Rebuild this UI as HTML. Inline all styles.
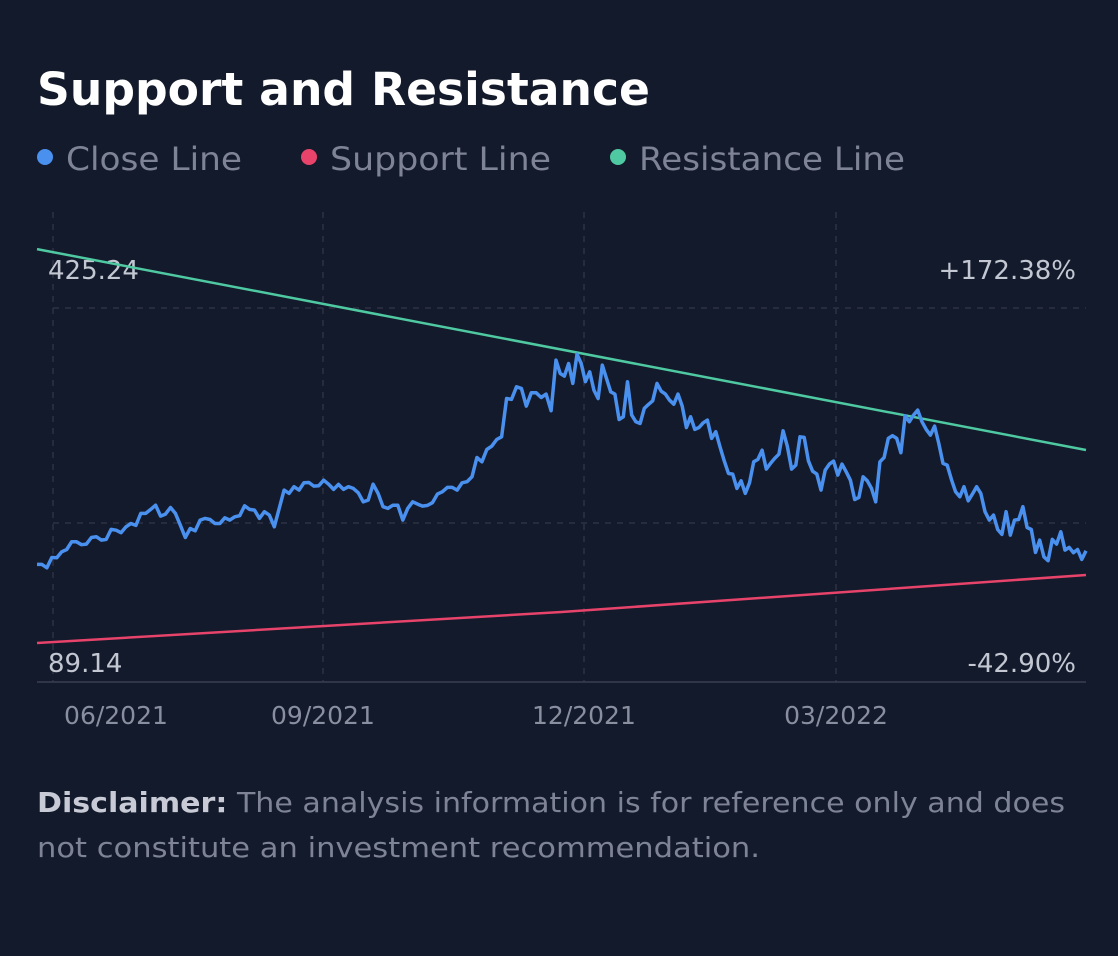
<!DOCTYPE html>
<html><head><meta charset="utf-8"><style>
body{margin:0;width:1118px;height:952px;background:#131a2b;font-family:"DejaVu Sans",sans-serif;overflow:hidden}
</style></head><body>
<svg width="1118" height="952" xmlns="http://www.w3.org/2000/svg">
<rect width="1118" height="952" fill="#131a2b"/>
<text x="37" y="105" font-size="45" font-weight="bold" fill="#ffffff" font-family="DejaVu Sans, sans-serif" textLength="613" lengthAdjust="spacingAndGlyphs">Support and Resistance</text>
<g font-size="32" fill="#7e8396" font-family="DejaVu Sans, sans-serif">
<g><circle cx="45" cy="157" r="8" fill="#4a90ee"/><text x="66" y="170" textLength="176" lengthAdjust="spacingAndGlyphs">Close Line</text></g>
<g><circle cx="309" cy="157" r="8" fill="#e8436a"/><text x="330" y="170" textLength="221" lengthAdjust="spacingAndGlyphs">Support Line</text></g>
<g><circle cx="618" cy="157" r="8" fill="#4fc9a1"/><text x="639" y="170" textLength="266" lengthAdjust="spacingAndGlyphs">Resistance Line</text></g>
</g>
<g id="grid" stroke="#2c3244" stroke-width="1.5" stroke-dasharray="6,6">
<line x1="53" y1="308" x2="1086" y2="308"/><line x1="53" y1="523" x2="1086" y2="523"/>
<line x1="53" y1="212" x2="53" y2="682"/><line x1="323" y1="212" x2="323" y2="682"/>
<line x1="584" y1="212" x2="584" y2="682"/><line x1="836" y1="212" x2="836" y2="682"/>
</g>
<line x1="37" y1="682" x2="1086" y2="682" stroke="#3a4052" stroke-width="1.5"/>
<g font-size="26" fill="#c3c7d2" font-family="DejaVu Sans, sans-serif">
<text x="48" y="279">425.24</text>
<text x="48" y="672">89.14</text>
<text x="1076" y="279" text-anchor="end">+172.38%</text>
<text x="1076" y="672" text-anchor="end">-42.90%</text>
</g>
<g id="xticks" font-size="25" fill="#8a8fa0" font-family="DejaVu Sans, sans-serif" text-anchor="middle"></g>
<g id="series"></g>
<text font-size="28" font-family="DejaVu Sans, sans-serif" fill="#7e8396"><tspan x="37" y="812" textLength="1028" lengthAdjust="spacingAndGlyphs"><tspan font-weight="bold" fill="#c8cbd6">Disclaimer:</tspan> The analysis information is for reference only and does</tspan><tspan x="37" y="857" textLength="723" lengthAdjust="spacingAndGlyphs">not constitute an investment recommendation.</tspan></text>
</svg>
<script>
const closeValues=[180.4,180.4,177.8,185.8,185.6,190.2,192.0,198.0,198.0,195.7,196.2,201.3,201.9,199.3,199.8,207.6,207.0,205.0,209.6,212.2,210.7,220.0,220.0,223.1,226.4,217.9,219.5,224.6,220.0,210.9,201.3,208.3,206.5,214.8,216.1,215.3,212.2,212.2,216.6,214.8,217.4,218.2,225.9,223.1,222.6,216.1,221.3,218.7,209.6,223.9,238.1,235.5,240.7,238.1,243.8,244.0,241.2,241.4,245.8,242.7,238.6,242.5,238.6,240.7,239.4,236.0,229.0,230.3,242.7,235.5,225.2,223.9,226.4,226.4,214.8,223.9,229.0,227.2,225.7,226.2,228.3,235.0,236.8,240.2,240.2,238.1,243.8,244.6,248.4,263.4,260.1,269.6,272.2,277.4,279.5,309.2,308.5,318.3,317.0,303.3,313.6,313.6,310.0,312.6,299.7,339.0,328.6,326.6,336.4,320.9,343.6,336.4,322.2,329.9,315.7,309.2,335.1,324.7,314.4,312.6,292.9,295.0,322.2,296.3,291.1,289.8,301.5,304.6,307.4,320.9,314.9,312.6,307.9,304.8,312.6,303.3,286.7,295.0,285.2,286.7,290.3,292.4,278.2,283.4,271.7,260.6,251.0,250.5,239.4,245.3,235.5,243.8,260.1,261.9,269.1,254.4,258.8,262.7,266.0,284.1,272.2,254.4,257.5,279.5,279.0,260.8,252.8,250.5,238.1,253.6,258.3,260.6,249.7,258.3,252.3,245.8,230.8,232.4,248.4,245.3,239.4,229.0,260.1,263.4,278.2,280.3,278.2,267.1,295.8,291.1,296.3,300.2,291.1,285.2,280.8,287.8,274.3,258.8,257.5,246.4,236.8,232.9,240.7,229.8,235.0,240.7,235.5,221.3,214.8,218.7,207.5,203.7,221.3,203.2,214.8,215.3,225.2,209.1,207.5,189.7,199.3,186.3,183.3,199.8,196.2,205.7,191.5,193.6,189.5,192.0,184.3,191.0];
const supportValues=[119.4,143.5,172.2];
const resistanceValues=[425.2,269.2];
const tickLabels=["06/2021","09/2021","12/2021","03/2022"];
const tickPos=[0.0753,0.2726,0.5214,0.7617];
const yMin=89.14,yMax=425.24;
const X0=37,X1=1086,Ytop=249,Ybot=682;
const sx=f=>X0+f*(X1-X0);
const sy=v=>Ybot-(v-yMin)/(yMax-yMin)*(Ybot-Ytop);
const NS="http://www.w3.org/2000/svg";
const g=document.getElementById('series');
const SPLIT=105, SPLITF=(556-X0)/(X1-X0);
function closeFrac(i,n){
  if(i<=SPLIT) return i/SPLIT*SPLITF;
  return SPLITF+(i-SPLIT)/(n-1-SPLIT)*(1-SPLITF);
}
function line(vals,color,w,name,fx){
  const p=document.createElementNS(NS,'polyline');
  p.setAttribute('points',vals.map((v,i)=>sx(fx?fx(i,vals.length):i/(vals.length-1)).toFixed(1)+','+sy(v).toFixed(1)).join(' '));
  p.setAttribute('fill','none');p.setAttribute('stroke',color);p.setAttribute('stroke-width',w);
  p.setAttribute('stroke-linejoin','round');
  
  
  g.appendChild(p);
}
line(resistanceValues,'#4fc9a1',2.5,'resistance-line');
line(supportValues,'#e8436a',2.5,'support-line');
line(closeValues,'#4a90ee',3.5,'close-line',closeFrac);
const xt=document.getElementById('xticks');
tickLabels.forEach((t,i)=>{
  const el=document.createElementNS(NS,'text');
  el.setAttribute('x',sx(tickPos[i]));
  el.setAttribute('y',724);
  el.textContent=t;
  
  
  xt.appendChild(el);
});
</script>
</body></html>
